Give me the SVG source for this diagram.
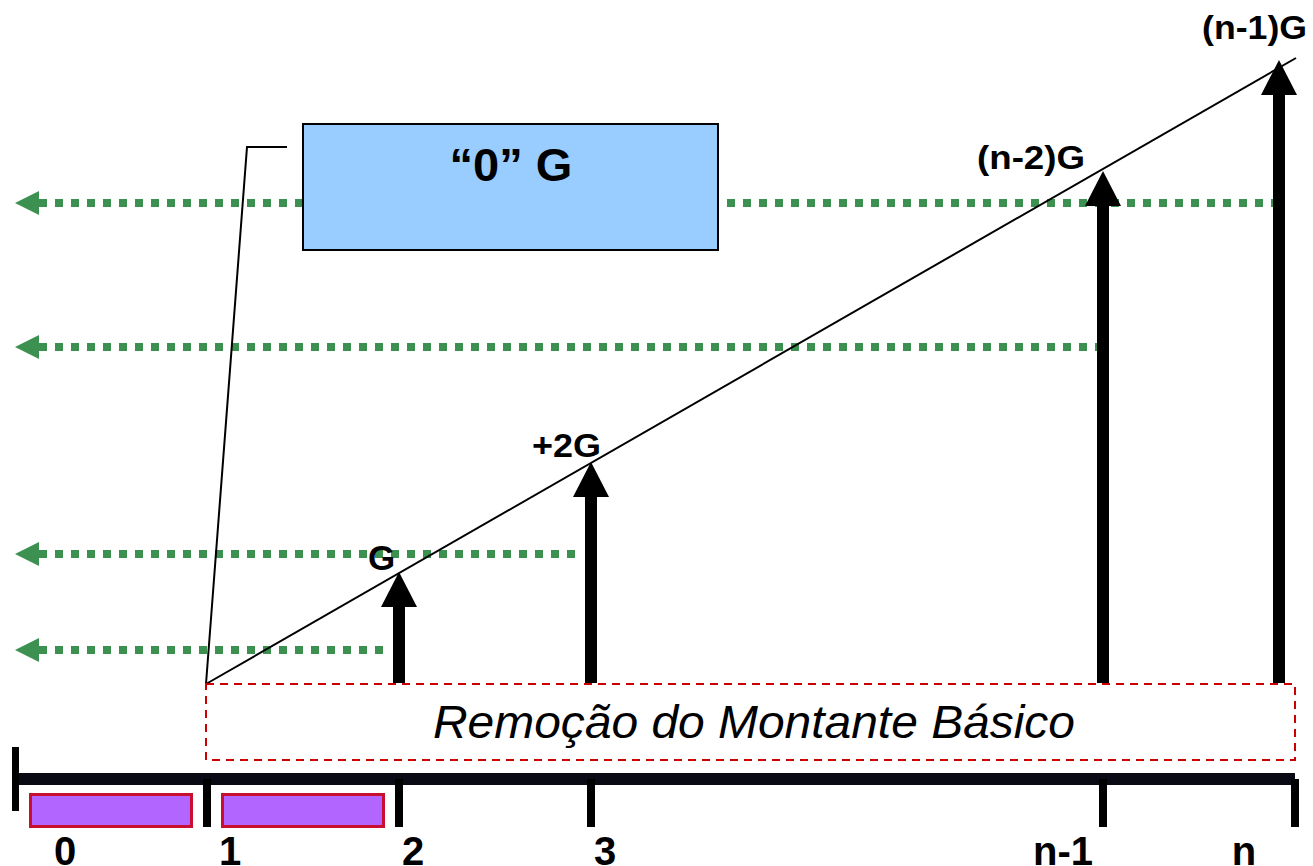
<svg xmlns="http://www.w3.org/2000/svg" width="1313" height="866" viewBox="0 0 1313 866">
<style>
.lbl{font-family:"Liberation Sans",Arial,sans-serif;font-weight:bold;fill:#000}
.dot{fill:none;stroke:#3d9150;stroke-width:8;stroke-dasharray:8 8}
.ah{fill:#3d9150}
.blk{fill:#000}
.tick{stroke:#000;stroke-width:8}
.pbox{fill:#B266FF;stroke:#C8102E;stroke-width:3}
</style>
<rect width="1313" height="866" fill="#fff"/>
<g id="connectors">
  <path class="dot" d="M39 203H1276"/>
  <polygon class="ah" points="15,203 39,191 39,215"/>
  <path class="dot" d="M39 347H1100"/>
  <polygon class="ah" points="15,347 39,335 39,359"/>
  <path class="dot" d="M39 554H576"/>
  <polygon class="ah" points="15,554 39,542 39,566"/>
  <path class="dot" d="M39 650H384"/>
  <polygon class="ah" points="15,650 39,638 39,662"/>
  <line x1="206" y1="684" x2="1296" y2="58" stroke="#000" stroke-width="2"/>
  <polyline points="206,684 247,147 287,147" fill="none" stroke="#000" stroke-width="2"/>
</g>
<g id="node-box0">
  <rect x="303" y="124" width="415" height="126" fill="#99CCFF" stroke="#000" stroke-width="2"/>
  <text class="lbl" x="511" y="181" font-size="47" text-anchor="middle">“0” G</text>
</g>
<g id="node-arrow-2">
  <rect class="blk" x="393" y="605" width="12" height="78"/>
  <polygon class="blk" points="399,572 381,607 417,607"/>
  <text class="lbl" x="368" y="570" font-size="35">G</text>
</g>
<g id="node-arrow-3">
  <rect class="blk" x="585" y="495" width="12" height="188"/>
  <polygon class="blk" points="591,462 573,497 609,497"/>
  <text class="lbl" x="532" y="457" font-size="33" textLength="69" lengthAdjust="spacingAndGlyphs">+2G</text>
</g>
<g id="node-arrow-n1">
  <rect class="blk" x="1097" y="204" width="12" height="479"/>
  <polygon class="blk" points="1103,171 1085,206 1121,206"/>
  <text class="lbl" x="977" y="169" font-size="34" textLength="108" lengthAdjust="spacingAndGlyphs">(n-2)G</text>
</g>
<g id="node-arrow-n">
  <rect class="blk" x="1273" y="93" width="12" height="590"/>
  <polygon class="blk" points="1279,60 1261,95 1297,95"/>
  <text class="lbl" x="1202" y="39" font-size="34" textLength="105" lengthAdjust="spacingAndGlyphs">(n-1)G</text>
</g>
<g id="node-removal">
  <rect x="206" y="684" width="1089" height="76" fill="none" stroke="#CC0000" stroke-width="2" stroke-dasharray="8 6"/>
  <text x="433" y="738" font-family="'Liberation Sans',Arial,sans-serif" font-style="italic" font-size="46" textLength="642" lengthAdjust="spacingAndGlyphs">Remoção do Montante Básico</text>
</g>
<g id="node-axis">
  <line x1="14" y1="779" x2="1295" y2="779" stroke="#0a0a14" stroke-width="12"/>
  <line x1="15.5" y1="747" x2="15.5" y2="811" stroke="#000" stroke-width="7"/>
  <line class="tick" x1="207" y1="779" x2="207" y2="827"/>
  <line class="tick" x1="399" y1="779" x2="399" y2="827"/>
  <line class="tick" x1="591" y1="779" x2="591" y2="827"/>
  <line class="tick" x1="1103" y1="779" x2="1103" y2="827"/>
  <line class="tick" x1="1295" y1="779" x2="1295" y2="827"/>
  <rect class="pbox" x="30.5" y="794.5" width="161" height="32"/>
  <rect class="pbox" x="222.5" y="794.5" width="161" height="32"/>
  <text class="lbl" x="65" y="865" font-size="40" text-anchor="middle">0</text>
  <text class="lbl" x="230" y="865" font-size="40" text-anchor="middle">1</text>
  <text class="lbl" x="413" y="865" font-size="40" text-anchor="middle">2</text>
  <text class="lbl" x="605" y="865" font-size="40" text-anchor="middle">3</text>
  <text class="lbl" x="1063" y="865" font-size="40" text-anchor="middle">n-1</text>
  <text class="lbl" x="1244" y="865" font-size="40" text-anchor="middle">n</text>
</g>
</svg>
